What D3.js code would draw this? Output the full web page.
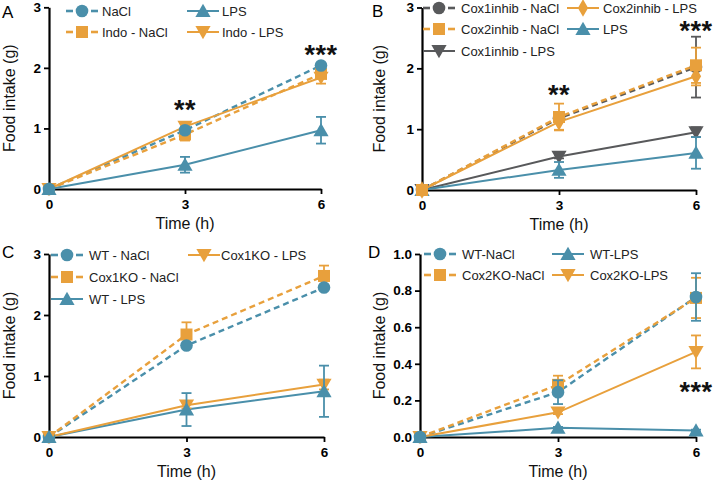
<!DOCTYPE html>
<html><head><meta charset="utf-8">
<script src="https://cdn.jsdelivr.net/npm/d3@7"></script>
<style>
body{margin:0;background:#fff;}
svg{display:block;font-family:Arial,"Liberation Sans",sans-serif;}
</style></head>
<body><svg id="c" width="713" height="480"></svg>
<script>
// ---------- DATA ----------
const timePoints = [0, 3, 6];
const xTickLabels = ["0", "3", "6"];
const yTicksABC = [0, 1, 2, 3];
const yTicksD = [0, 0.2, 0.4, 0.6, 0.8, 1.0];

// Panel A
const aNames = ["NaCl", "LPS", "Indo - NaCl", "Indo - LPS"];
const aNaCl = [0, 0.97, 2.04];      const aNaClErr = [0, 0.05, 0.03];
const aLPS = [0, 0.40, 0.97];       const aLPSErr = [0, 0.13, 0.22];
const aIndoNaCl = [0, 0.90, 1.90];  const aIndoNaClErr = [0, 0.10, 0.05];
const aIndoLPS = [0, 1.03, 1.84];   const aIndoLPSErr = [0, 0.07, 0.10];
const aStars = ["**", "***"];       const aStarX = [3, 6]; const aStarY = [1.42, 2.32];

// Panel B
const bNames = ["Cox1inhib - NaCl", "Cox2inhib - NaCl", "Cox1inhib - LPS", "Cox2inhib - LPS", "LPS"];
const bCox1NaCl = [0, 1.18, 2.02]; const bCox1NaClErr = [0, 0.04, 0.50];
const bCox2NaCl = [0, 1.20, 2.05]; const bCox2NaClErr = [0, 0.22, 0.29];
const bCox1LPS = [0, 0.55, 0.95];  const bCox1LPSErr = [0, 0.03, 0.08];
const bCox2LPS = [0, 1.12, 1.87];  const bCox2LPSErr = [0, 0.13, 0.15];
const bLPS = [0, 0.33, 0.61];      const bLPSErr = [0, 0.13, 0.26];
const bStars = ["**", "***"];      const bStarX = [3, 6]; const bStarY = [1.68, 2.73];

// Panel C
const cNames = ["WT - NaCl", "Cox1KO - NaCl", "WT - LPS", "Cox1KO - LPS"];
const cWTNaCl = [0, 1.50, 2.45];   const cWTNaClErr = [0, 0.03, 0.03];
const cKONaCl = [0, 1.68, 2.64];   const cKONaClErr = [0, 0.20, 0.17];
const cWTLPS = [0, 0.45, 0.75];    const cWTLPSErr = [0, 0.27, 0.42];
const cKOLPS = [0, 0.52, 0.86];    const cKOLPSErr = [0, 0.05, 0.08];

// Panel D
const dNames = ["WT-NaCl", "Cox2KO-NaCl", "WT-LPS", "Cox2KO-LPS"];
const dWTNaCl = [0, 0.245, 0.765]; const dWTNaClErr = [0, 0.065, 0.13];
const dKONaCl = [0, 0.285, 0.760]; const dKONaClErr = [0, 0.05, 0.11];
const dWTLPS = [0, 0.05, 0.035];   const dWTLPSErr = [0, 0.005, 0.005];
const dKOLPS = [0, 0.135, 0.465];  const dKOLPSErr = [0, 0.01, 0.09];
const dStars = ["***"];            const dStarX = [6]; const dStarY = [0.285];

// ---------- STYLE ----------
const BLUE = "#4a8faa", ORANGE = "#e8a03c", GRAY = "#58595b";
const svg = d3.select("#c");

function shapePath(shape) {
  const map = {
    circle: d3.symbol(d3.symbolCircle, 125),
    square: d3.symbol(d3.symbolSquare, 144),
    triangle: d3.symbol(d3.symbolTriangle, 100),
    down: d3.symbol(d3.symbolTriangle, 100),
    diamond: d3.symbol(d3.symbolDiamond, 90)
  };
  return map[shape]();
}
function drawMarker(g, shape, color, x, y) {
  const rot = shape === "down" ? " rotate(180)" : "";
  const dy = shape === "triangle" ? 1.5 : (shape === "down" ? -1.5 : 0);
  g.append("path").attr("d", shapePath(shape))
    .attr("transform", `translate(${x},${y + dy})${rot}`)
    .attr("fill", color);
}

function drawPanel(cfg) {
  const x = d3.scaleLinear().domain([0, 6]).range([cfg.x0, cfg.x6]);
  const y = d3.scaleLinear().domain([0, cfg.ymax]).range([cfg.y0, cfg.yTop]);
  const g = svg.append("g");

  // axes
  const xa = g.append("g").attr("transform", `translate(0,${cfg.y0})`)
    .call(d3.axisBottom(x).tickValues(timePoints).tickFormat((d, i) => xTickLabels[i]).tickSize(5).tickSizeOuter(0).tickPadding(5));
  const ya = g.append("g").attr("transform", `translate(${cfg.x0},0)`)
    .call(d3.axisLeft(y).tickValues(cfg.yticks).tickFormat(cfg.fmt).tickSize(5).tickSizeOuter(0).tickPadding(3));
  [xa, ya].forEach(a => {
    a.select(".domain").attr("stroke", "#000").attr("stroke-width", 2.2);
    a.selectAll(".tick line").attr("stroke", "#000").attr("stroke-width", 1.8);
    a.selectAll("text").attr("font-size", 13.5).attr("font-weight", "bold").attr("fill", "#000")
      .attr("font-family", "Arial, 'Liberation Sans', sans-serif");
  });

  // axis titles
  g.append("text").attr("x", (cfg.x0 + cfg.x6) / 2).attr("y", cfg.y0 + 40)
    .attr("text-anchor", "middle").attr("font-size", 16).attr("fill", "#111").text("Time (h)");
  g.append("text").attr("transform", `translate(${cfg.ytx},${(cfg.y0 + cfg.yTop) / 2}) rotate(-90)`)
    .attr("text-anchor", "middle").attr("font-size", 16).attr("fill", "#111").text("Food intake (g)");

  // panel letter
  g.append("text").attr("x", cfg.lx).attr("y", cfg.ly).attr("font-size", 17).text(cfg.letter);

  const line = d3.line().x((d, i) => x(timePoints[i])).y(d => y(d));
  // lines
  cfg.series.forEach(s => {
    g.append("path").attr("d", line(s.values)).attr("fill", "none")
      .attr("stroke", s.color).attr("stroke-width", s.dashed ? 2.4 : 2)
      .attr("stroke-dasharray", s.dashed ? "6,4" : null);
  });
  // error bars + markers in drawing order
  cfg.order.forEach(k => {
    const s = cfg.series[k];
    s.values.forEach((v, i) => {
      const e = s.errs[i];
      if (e > 0) {
        const xx = x(timePoints[i]);
        g.append("line").attr("x1", xx).attr("x2", xx).attr("y1", y(v - e)).attr("y2", y(v + e))
          .attr("stroke", s.color).attr("stroke-width", 1.8);
        [v - e, v + e].forEach(c => g.append("line").attr("x1", xx - 5).attr("x2", xx + 5)
          .attr("y1", y(c)).attr("y2", y(c)).attr("stroke", s.color).attr("stroke-width", 1.8));
      }
    });
    s.values.forEach((v, i) => drawMarker(g, s.shape, s.color, x(timePoints[i]), y(v)));
  });

  // legend
  cfg.legend.forEach(L => {
    const s = cfg.series[L.k];
    if (s.dashed) {
      [[-16, -9], [9, 16]].forEach(p => g.append("line").attr("x1", L.cx + p[0]).attr("x2", L.cx + p[1])
        .attr("y1", L.cy).attr("y2", L.cy).attr("stroke", s.color).attr("stroke-width", 2.6));
    } else {
      g.append("line").attr("x1", L.cx - 16).attr("x2", L.cx + 16).attr("y1", L.cy).attr("y2", L.cy)
        .attr("stroke", s.color).attr("stroke-width", 2);
    }
    drawMarker(g, s.shape, s.color, L.cx, L.cy);
    g.append("text").attr("x", L.tx).attr("y", L.cy).attr("dy", "0.36em")
      .attr("font-size", 13).attr("fill", "#222").text(s.name);
  });

  // significance stars
  (cfg.stars || []).forEach(st => {
    g.append("text").attr("x", x(st.x)).attr("y", y(st.y) + 16)
      .attr("text-anchor", "middle").attr("font-size", 27).attr("font-weight", "bold").attr("letter-spacing", 0.5)
      .attr("fill", "#111").text(st.t);
  });
}

const mk = (names, vals, errs, colors, dashed, shapes) =>
  names.map((n, i) => ({name: n, values: vals[i], errs: errs[i], color: colors[i], dashed: dashed[i], shape: shapes[i]}));
const mkStars = (t, xs, ys) => t.map((s, i) => ({t: s, x: xs[i], y: ys[i]}));

// Panel A
drawPanel({
  letter: "A", lx: 2, ly: 18, x0: 49, x6: 321, y0: 189, yTop: 7.3, ymax: 3, yticks: yTicksABC, fmt: d3.format("d"), ytx: 14.5,
  series: mk(aNames, [aNaCl, aLPS, aIndoNaCl, aIndoLPS], [aNaClErr, aLPSErr, aIndoNaClErr, aIndoLPSErr],
    [BLUE, BLUE, ORANGE, ORANGE], [true, false, true, false], ["circle", "triangle", "square", "down"]),
  order: [2, 3, 1, 0],
  legend: [{k: 0, cx: 82, cy: 11, tx: 102}, {k: 2, cx: 82, cy: 32, tx: 102},
           {k: 1, cx: 203, cy: 11, tx: 222}, {k: 3, cx: 203, cy: 32, tx: 222}],
  stars: mkStars(aStars, aStarX, aStarY)
});

// Panel B
drawPanel({
  letter: "B", lx: 372, ly: 17, x0: 422, x6: 696, y0: 190, yTop: 7.5, ymax: 3, yticks: yTicksABC, fmt: d3.format("d"), ytx: 385,
  series: mk(bNames, [bCox1NaCl, bCox2NaCl, bCox1LPS, bCox2LPS, bLPS], [bCox1NaClErr, bCox2NaClErr, bCox1LPSErr, bCox2LPSErr, bLPSErr],
    [GRAY, ORANGE, GRAY, ORANGE, BLUE], [true, true, false, false, false], ["circle", "square", "down", "diamond", "triangle"]),
  order: [0, 2, 4, 3, 1],
  legend: [{k: 0, cx: 439, cy: 8, tx: 461}, {k: 1, cx: 439, cy: 29, tx: 461}, {k: 2, cx: 439, cy: 51, tx: 461},
           {k: 3, cx: 583, cy: 8, tx: 603}, {k: 4, cx: 583, cy: 29, tx: 603}],
  stars: mkStars(bStars, bStarX, bStarY)
});

// Panel C
drawPanel({
  letter: "C", lx: 2, ly: 258, x0: 49, x6: 324, y0: 437, yTop: 254, ymax: 3, yticks: yTicksABC, fmt: d3.format("d"), ytx: 14.5,
  series: mk(cNames, [cWTNaCl, cKONaCl, cWTLPS, cKOLPS], [cWTNaClErr, cKONaClErr, cWTLPSErr, cKOLPSErr],
    [BLUE, ORANGE, BLUE, ORANGE], [true, true, false, false], ["circle", "square", "triangle", "down"]),
  order: [1, 0, 3, 2],
  legend: [{k: 0, cx: 67, cy: 255, tx: 89}, {k: 1, cx: 67, cy: 277, tx: 89}, {k: 2, cx: 67, cy: 299, tx: 89},
           {k: 3, cx: 204, cy: 255, tx: 221}]
});

// Panel D
drawPanel({
  letter: "D", lx: 368, ly: 258, x0: 420, x6: 696, y0: 437, yTop: 254, ymax: 1, yticks: yTicksD, fmt: d3.format(".1f"), ytx: 385,
  series: mk(dNames, [dWTNaCl, dKONaCl, dWTLPS, dKOLPS], [dWTNaClErr, dKONaClErr, dWTLPSErr, dKOLPSErr],
    [BLUE, ORANGE, BLUE, ORANGE], [true, true, false, false], ["circle", "square", "triangle", "down"]),
  order: [1, 3, 2, 0],
  legend: [{k: 0, cx: 440, cy: 254, tx: 462}, {k: 1, cx: 440, cy: 275, tx: 462},
           {k: 2, cx: 568, cy: 254, tx: 590}, {k: 3, cx: 568, cy: 275, tx: 590}],
  stars: mkStars(dStars, dStarX, dStarY)
});
</script>
</body></html>
